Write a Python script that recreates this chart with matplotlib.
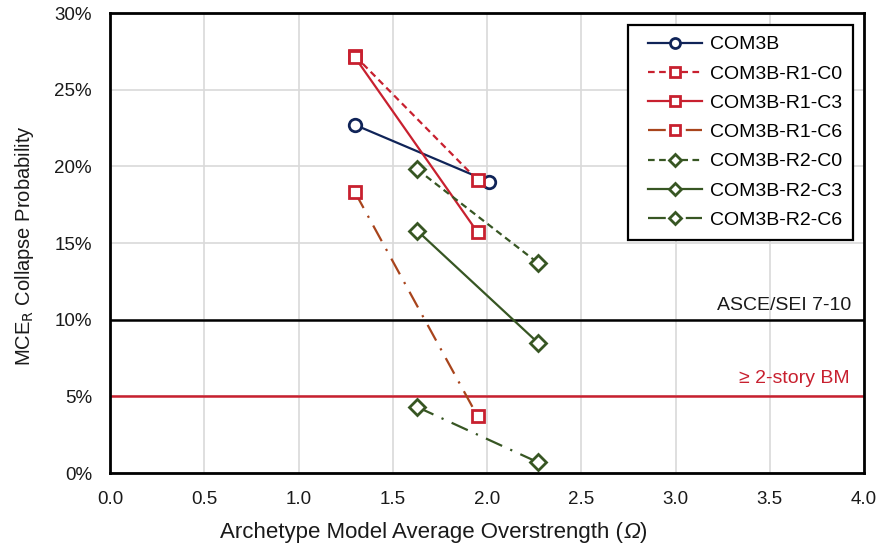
import matplotlib
matplotlib.use("Agg")
import matplotlib.pyplot as plt
from matplotlib.lines import Line2D
from matplotlib.legend_handler import HandlerLine2D
from matplotlib.ticker import PercentFormatter, MultipleLocator, FormatStrFormatter

plt.rcParams['font.family'] = ['Liberation Sans', 'DejaVu Sans']

# data (collapse probability in %)
labels = ["COM3B", "COM3B-R1-C0", "COM3B-R1-C3", "COM3B-R1-C6",
          "COM3B-R2-C0", "COM3B-R2-C3", "COM3B-R2-C6"]
x_com3b = [1.30, 2.01]
y_com3b = [22.7, 19.0]
x_r1 = [1.30, 1.95]
y_r1_c0 = [27.2, 19.1]
y_r1_c3 = [27.1, 15.7]
y_r1_c6 = [18.3, 3.7]
x_r2 = [1.63, 2.27]
y_r2_c0 = [19.8, 13.7]
y_r2_c3 = [15.8, 8.5]
y_r2_c6 = [4.3, 0.7]
asce_limit = 10.0
bm_limit = 5.0

navy = "#102458"
red = "#C8202F"
brown = "#A8441C"
green = "#375623"
txt = "#1a1a1a"

fig = plt.figure(figsize=(8.86, 5.52), dpi=100)
ax = fig.add_axes([110 / 886, 1 - 473 / 552, 754 / 886, 460 / 552])

mk = dict(markerfacecolor="white", markeredgewidth=2, markersize=9)
dmk = dict(markerfacecolor="white", markeredgewidth=2, markersize=8)
ax.plot(x_com3b, y_com3b, color=navy, lw=1.6, marker="o", markeredgecolor=navy,
        label=labels[0], **mk)
ax.plot(x_r1, y_r1_c0, color=red, lw=1.6, ls=(0, (3, 2)), marker="s",
        markeredgecolor=red, label=labels[1], **mk)
ax.plot(x_r1, y_r1_c3, color=red, lw=1.6, marker="s", markeredgecolor=red,
        label=labels[2], **mk)
ax.plot(x_r1, y_r1_c6, color=brown, lw=1.6, ls=(0, (8, 4, 1, 4)), marker="s",
        markeredgecolor=red, label=labels[3], **mk)
ax.plot(x_r2, y_r2_c0, color=green, lw=1.6, ls=(0, (3, 2)), marker="D",
        markeredgecolor=green, label=labels[4], **dmk)
ax.plot(x_r2, y_r2_c3, color=green, lw=1.6, marker="D", markeredgecolor=green,
        label=labels[5], **dmk)
ax.plot(x_r2, y_r2_c6, color=green, lw=1.6, ls=(0, (8, 4, 1, 4)), marker="D",
        markeredgecolor=green, label=labels[6], **dmk)

ax.axhline(asce_limit, color="black", lw=1.8, zorder=1)
ax.axhline(bm_limit, color=red, lw=1.8, zorder=1)
ax.text(3.935, asce_limit + 0.6, "ASCE/SEI 7-10", ha="right", va="baseline",
        fontsize=14, color=txt)
ax.text(3.925, bm_limit + 0.85, "\u2265 2-story BM", ha="right", va="baseline",
        fontsize=14, color=red)

ax.set_xlim(0, 4)
ax.set_ylim(0, 30)
ax.xaxis.set_major_locator(MultipleLocator(0.5))
ax.yaxis.set_major_locator(MultipleLocator(5))
ax.yaxis.set_major_formatter(PercentFormatter(decimals=0))
ax.xaxis.set_major_formatter(FormatStrFormatter("%.1f"))
ax.tick_params(length=0, labelsize=13.5, colors=txt)
ax.tick_params(axis="y", pad=13)
ax.tick_params(axis="x", pad=13)
ax.grid(True, color="#d9d9d9", lw=1.2)
ax.set_axisbelow(True)
for s in ax.spines.values():
    s.set_linewidth(2)
    s.set_color("black")

# x title in three pieces so the Omega can be italic
t1 = ax.text(0.1465, -0.107, "Archetype Model Average Overstrength (",
             transform=ax.transAxes, ha="left", va="top", fontsize=16,
             color=txt)
t2 = ax.annotate("\u03a9", xy=(1, 0), xycoords=t1, ha="left", va="bottom",
                 fontsize=16, fontstyle="italic", color=txt)
ax.annotate(")", xy=(1, 0), xycoords=t2, ha="left", va="bottom",
            fontsize=16, color=txt)

ax.set_ylabel(r"MCE$_\mathrm{R}$ Collapse Probability", fontsize=14.5,
              color=txt)
ax.yaxis.set_label_coords(-0.098, 0.495)

leg = ax.legend(loc="upper right", bbox_to_anchor=(0.9854, 0.9739),
                borderaxespad=0, fontsize=14, fancybox=False,
                edgecolor="black", framealpha=1, handlelength=3.3,
                handletextpad=0.4, labelspacing=0.6, borderpad=0.55,
                markerscale=0.8,
                handler_map={Line2D: HandlerLine2D(xpad=0.5)})
leg.get_frame().set_linewidth(1.6)

fig.savefig("out.png", dpi=100)
